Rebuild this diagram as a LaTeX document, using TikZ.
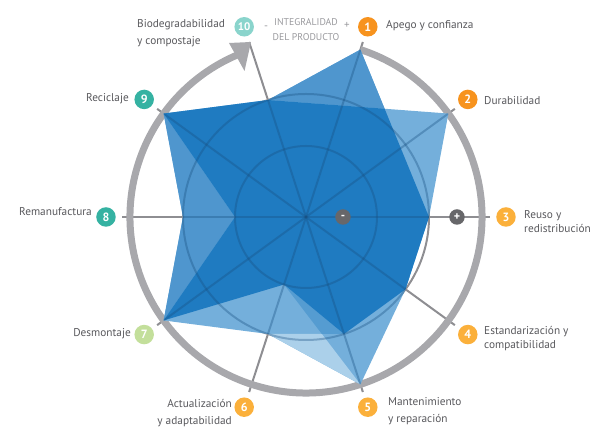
\documentclass[tikz,border=0pt]{standalone}
\usepackage{fontspec}
\setmainfont{PT Sans}
\usetikzlibrary{arrows.meta,calc}

\definecolor{ringgray}{HTML}{A8A8AC}
\definecolor{spokegray}{HTML}{8E8E92}
\definecolor{txtgray}{HTML}{58585C}
\definecolor{softgray}{HTML}{9A9A9E}
\definecolor{markgray}{HTML}{67676A}
\definecolor{bdark}{HTML}{1F7BC1}
\definecolor{bmed}{HTML}{4F96CE}
\definecolor{bmedb}{HTML}{559CD1}
\definecolor{blight}{HTML}{74AFDB}
\definecolor{bpale}{HTML}{ABD0EA}
\definecolor{gridblue}{HTML}{184F80}
\definecolor{orangeA}{HTML}{F7931E}
\definecolor{orangeB}{HTML}{FBB03B}
\definecolor{greenA}{HTML}{C3DF9B}
\definecolor{tealA}{HTML}{35B2A2}
\definecolor{tealB}{HTML}{8AD4CC}

\begin{document}
\begin{tikzpicture}[x=1pt,y=1pt,
  gridline/.style={draw=spokegray, line width=2pt},
  gridover/.style={draw=gridblue, line width=2pt, opacity=0.35},
  ringline/.style={draw=ringgray, line width=7pt},
  numdot/.style={circle, minimum size=19.5pt, inner sep=0pt, text=white,
    font=\bfseries\fontsize{12}{12}\selectfont},
  signdot/.style={circle, fill=markgray, minimum size=15.5pt, inner sep=0pt,
    text=white, font=\bfseries\fontsize{12}{12}\selectfont},
  lbl/.style={text=txtgray, inner sep=0pt, font=\fontsize{11.3}{13}\selectfont},
  headtxt/.style={text=softgray, inner sep=0pt, font=\fontsize{9.8}{11}\selectfont},
]
\useasboundingbox (-306,-210) rectangle (284,217);

% axis points: inner, middle and outer level, spoke end, badge position
\coordinate (C) at (0,0);
\foreach \k/\a in {1/72,2/36,3/0,4/-36,5/-72,6/-108,7/-144,8/180,9/144,10/108}{
  \coordinate (I\k) at (\a:71);
  \coordinate (M\k) at (\a:123);
  \coordinate (O\k) at (\a:176);
  \coordinate (E\k) at (\a:184);
  \coordinate (N\k) at (\a:200);
}
\coordinate (X) at (intersection of M10--O2 and O1--M3);
\coordinate (Y) at (intersection of M6--M5 and I6--O5);

% grid
\draw[gridline] (C) circle[radius=71];
\draw[gridline] (C) circle[radius=123];
\foreach \k in {1,...,10}{ \draw[gridline] (C) -- (E\k); }

% outer ring with its arrow
\draw[ringline] (O1) arc[start angle=72, end angle=-246.9, radius=176];
\coordinate (AT) at (-55,175);
\fill[ringgray] (-77,174) -- (AT) -- (-61.5,146) -- cycle;

% profile areas
\fill[blight] (O9) -- (M10) -- (O1) -- (X) -- (O2) -- (M3) -- (M4) -- (O5)
  -- (M6) -- (O7) -- (M8) -- cycle;
\fill[bmed] (M10) -- (O1) -- (X) -- cycle;
\fill[bmed] (O9) -- (M8) -- (O7) -- (I8) -- cycle;
\fill[bpale] (M6) -- (O5) -- (Y) -- cycle;
\fill[bmedb] (I6) -- (Y) -- (M5) -- cycle;
\fill[bdark] (O9) -- (M10) -- (X) -- (M3) -- (M4) -- (M5) -- (I6) -- (O7)
  -- (I8) -- cycle;

% grid seen through the areas
\begin{scope}
  \clip (O9) -- (M10) -- (O1) -- (X) -- (O2) -- (M3) -- (M4) -- (O5)
    -- (M6) -- (O7) -- (M8) -- cycle;
  \draw[gridover] (C) circle[radius=71];
  \draw[gridover] (C) circle[radius=123];
  \foreach \k in {1,...,10}{ \draw[gridover] (C) -- (E\k); }
\end{scope}

% scale marks
\node[signdot] (minus) at (37,0) {-};
\node[signdot] (plus) at (151,0) {+};

% numbered badges
\node[numdot, fill=orangeA] (c1) at (N1) {1};
\node[numdot, fill=orangeA] (c2) at (N2) {2};
\node[numdot, fill=orangeB] (c3) at (N3) {3};
\node[numdot, fill=orangeB] (c4) at (N4) {4};
\node[numdot, fill=orangeB] (c5) at (N5) {5};
\node[numdot, fill=orangeB] (c6) at (N6) {6};
\node[numdot, fill=greenA] (c7) at (N7) {7};
\node[numdot, fill=tealA] (c8) at (N8) {8};
\node[numdot, fill=tealA] (c9) at (N9) {9};
\node[numdot, fill=tealB, font=\bfseries\fontsize{11}{11}\selectfont] (c10) at (N10) {10};

% labels
\node[lbl, anchor=base west] (t1) at (80,188.5) {Apego y confianza};
\node[lbl, anchor=base west] (t2) at (178,112) {Durabilidad};
\node[lbl, anchor=base west] (t3a) at (218,-2) {Reuso y};
\node[lbl, anchor=base west] (t3b) at (218,-16) {redistribución};
\node[lbl, anchor=base west] (t4a) at (178,-118) {Estandarización y};
\node[lbl, anchor=base west] (t4b) at (178,-132) {compatibilidad};
\node[lbl, anchor=base west] (t5a) at (82,-189) {Mantenimiento};
\node[lbl, anchor=base west] (t5b) at (82,-206) {y reparación};
\node[lbl, anchor=base east] (t6a) at (-74,-191) {Actualización};
\node[lbl, anchor=base east] (t6b) at (-74,-208) {y adaptabilidad};
\node[lbl, anchor=base east] (t7) at (-175,-120) {Desmontaje};
\node[lbl, anchor=base east] (t8) at (-214,1) {Remanufactura};
\node[lbl, anchor=base east] (t9) at (-177,115) {Reciclaje};
\node[lbl, anchor=base west] (t10a) at (-169,189) {Biodegradabilidad};
\node[lbl, anchor=base west] (t10b) at (-169,172) {y compostaje};

\node[headtxt, anchor=base] (h1) at (0,191) {INTEGRALIDAD};
\node[headtxt, anchor=base] (h2) at (0,176) {DEL PRODUCTO};
\node[headtxt, anchor=base, font=\fontsize{11}{11}\selectfont] (hm) at (-40,187) {-};
\node[headtxt, anchor=base, font=\fontsize{11}{11}\selectfont] (hp) at (41,188) {+};
\end{tikzpicture}
\end{document}
